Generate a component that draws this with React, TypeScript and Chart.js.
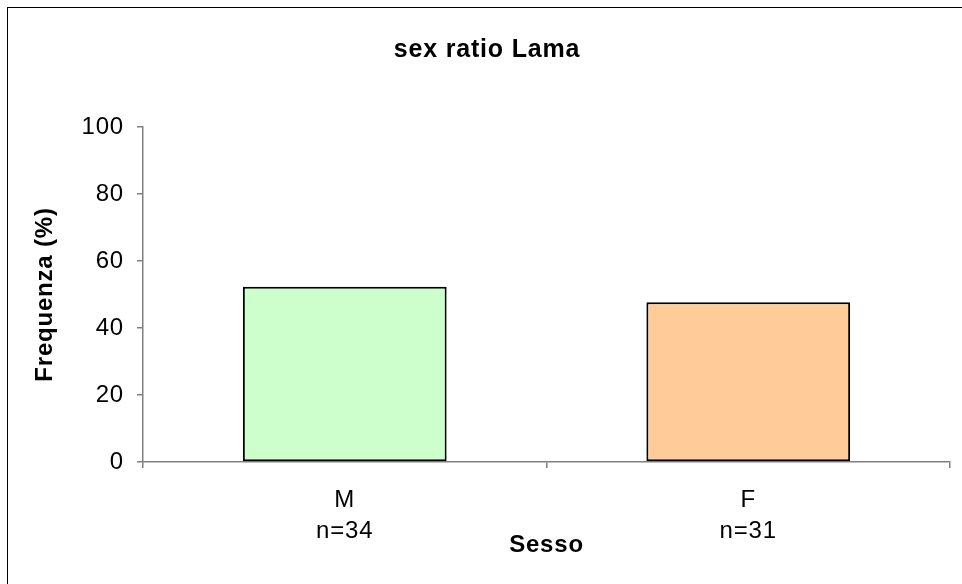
import React, { useEffect, useRef } from "react";
import { Chart, registerables } from "chart.js";

Chart.register(...registerables);

const categories: string[][] = [["M", "n=34"], ["F", "n=31"]];
const frequencies: number[] = [52.3, 47.7];
const barColors: string[] = ["#CCFFCC", "#FFCC99"];
const yTicks: number[] = [0, 20, 40, 60, 80, 100];
const chartTitle = "sex ratio Lama";
const xTitle = "Sesso";
const yTitle = "Frequenza (%)";

const FONT = "'Liberation Sans', Arial, Helvetica, sans-serif";

const spacingPlugin = {
  id: "letterSpacing",
  beforeLayout(chart: any) {
    (chart.ctx as any).letterSpacing = "0.8px";
  },
  beforeDraw(chart: any) {
    (chart.ctx as any).letterSpacing = "0.8px";
  },
};

export default function App() {
  const ref = useRef<HTMLCanvasElement | null>(null);

  useEffect(() => {
    if (!ref.current) return;
    const chart = new Chart(ref.current, {
      type: "bar",
      data: {
        labels: categories,
        datasets: [
          {
            data: frequencies,
            backgroundColor: barColors,
            borderColor: "#000000",
            borderWidth: 2,
            borderSkipped: false,
            categoryPercentage: 0.505,
            barPercentage: 1,
          },
        ],
      },
      options: {
        animation: false,
        responsive: false,
        maintainAspectRatio: false,
        layout: { padding: { left: 24, right: 12, top: 0, bottom: 0 } },
        plugins: {
          legend: { display: false },
          tooltip: { enabled: false },
          title: {
            display: true,
            text: chartTitle,
            color: "#000",
            font: { family: FONT, size: 25, weight: "bold", lineHeight: 1.2 },
            padding: { top: 35, bottom: 62 },
          },
        },
        scales: {
          x: {
            type: "category",
            offset: true,
            grid: {
              offset: true,
              drawOnChartArea: false,
              drawTicks: true,
              tickLength: 6,
              color: "#808080",
              lineWidth: 1.5,
            },
            border: { display: true, color: "#808080", width: 1.5 },
            ticks: {
              color: "#000",
              padding: 17,
              font: { family: FONT, size: 24, lineHeight: 1.3 },
              maxRotation: 0,
              autoSkip: false,
            },
            title: {
              display: true,
              text: xTitle,
              color: "#000",
              font: { family: FONT, size: 24, weight: "bold", lineHeight: 1.2 },
              padding: { top: 0, bottom: 24 },
            },
            afterFit(scale: any) {
              scale.height = 122;
            },
          },
          y: {
            min: 0,
            max: 100,
            afterBuildTicks(scale: any) {
              scale.ticks = yTicks.map((v) => ({ value: v }));
            },
            grid: {
              drawOnChartArea: false,
              drawTicks: true,
              tickLength: 6,
              color: "#808080",
              lineWidth: 1.5,
            },
            border: { display: true, color: "#808080", width: 1.5 },
            ticks: {
              color: "#000",
              padding: 13,
              font: { family: FONT, size: 24 },
            },
            title: {
              display: true,
              text: yTitle,
              color: "#000",
              font: { family: FONT, size: 24, weight: "bold", lineHeight: 1.2 },
              padding: { top: 7, bottom: 0 },
            },
            afterFit(scale: any) {
              scale.width = 119;
            },
          },
        },
      },
      plugins: [spacingPlugin],
    });
    return () => chart.destroy();
  }, []);

  return (
    <div>
      <div
        style={{
          position: "absolute",
          left: 7,
          top: 7,
          width: 955,
          height: 577,
          borderLeft: "1px solid #000",
          borderTop: "1px solid #000",
          boxSizing: "border-box",
        }}
      />
      <canvas
        ref={ref}
        width={962}
        height={584}
        style={{ position: "absolute", left: 0, top: 0, width: 962, height: 584 }}
      />
    </div>
  );
}
